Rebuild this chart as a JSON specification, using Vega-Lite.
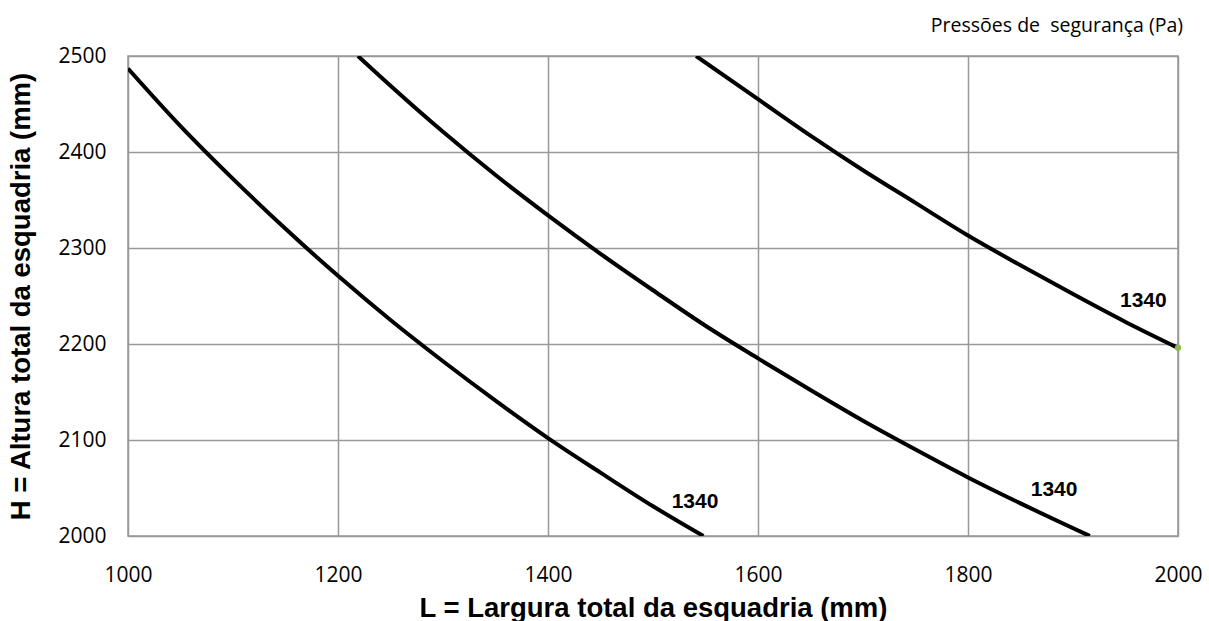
{
  "$schema": "https://vega.github.io/schema/vega-lite/v6.json",
  "autosize": {"type": "none"},
  "width": 1050,
  "height": 480,
  "padding": {"left": 128, "top": 56, "right": 31, "bottom": 85},
  "background": "white",
  "config": {
    "view": {"stroke": "#999999", "strokeWidth": 1.5},
    "axis": {
      "grid": true,
      "gridColor": "#999999",
      "gridWidth": 1.5,
      "gridOpacity": 1,
      "domain": false,
      "ticks": false,
      "labelFlush": false,
      "labelFont": "Open Sans",
      "labelFontSize": 21,
      "labelColor": "#000000",
      "titleFont": "Liberation Sans",
      "titleFontSize": 27.5,
      "titleFontWeight": "bold",
      "titleColor": "#000000"
    }
  },
  "title": {
    "text": "Pressões de\u00a0 segurança (Pa)",
    "anchor": "end",
    "orient": "top",
    "font": "Open Sans",
    "fontSize": 19.5,
    "fontWeight": "normal",
    "color": "#000000",
    "offset": 9,
    "dx": -19
  },
  "datasets": {
    "curves": [
      {"curve": "a", "L": 1000, "H": 2487},
      {"curve": "a", "L": 1050, "H": 2427},
      {"curve": "a", "L": 1100, "H": 2372},
      {"curve": "a", "L": 1150, "H": 2320},
      {"curve": "a", "L": 1200, "H": 2271},
      {"curve": "a", "L": 1250, "H": 2225},
      {"curve": "a", "L": 1300, "H": 2182},
      {"curve": "a", "L": 1350, "H": 2141},
      {"curve": "a", "L": 1400, "H": 2102},
      {"curve": "a", "L": 1450, "H": 2066},
      {"curve": "a", "L": 1500, "H": 2031},
      {"curve": "a", "L": 1548, "H": 2000},
      {"curve": "b", "L": 1219, "H": 2500},
      {"curve": "b", "L": 1250, "H": 2469},
      {"curve": "b", "L": 1300, "H": 2421},
      {"curve": "b", "L": 1350, "H": 2376},
      {"curve": "b", "L": 1400, "H": 2334},
      {"curve": "b", "L": 1450, "H": 2294},
      {"curve": "b", "L": 1500, "H": 2256},
      {"curve": "b", "L": 1550, "H": 2219},
      {"curve": "b", "L": 1600, "H": 2185},
      {"curve": "b", "L": 1650, "H": 2152},
      {"curve": "b", "L": 1700, "H": 2120},
      {"curve": "b", "L": 1750, "H": 2090},
      {"curve": "b", "L": 1800, "H": 2061},
      {"curve": "b", "L": 1850, "H": 2034},
      {"curve": "b", "L": 1916, "H": 2000},
      {"curve": "c", "L": 1541, "H": 2500},
      {"curve": "c", "L": 1600, "H": 2455},
      {"curve": "c", "L": 1650, "H": 2417},
      {"curve": "c", "L": 1700, "H": 2381},
      {"curve": "c", "L": 1750, "H": 2347},
      {"curve": "c", "L": 1800, "H": 2313},
      {"curve": "c", "L": 1850, "H": 2282},
      {"curve": "c", "L": 1900, "H": 2252},
      {"curve": "c", "L": 1950, "H": 2223},
      {"curve": "c", "L": 2000, "H": 2196}
    ],
    "labels": [
      {"L": 1540, "H": 2035, "label": "1340"},
      {"L": 1882, "H": 2048, "label": "1340"},
      {"L": 1967, "H": 2245, "label": "1340"}
    ],
    "dot": [
      {"L": 2000, "H": 2196}
    ]
  },
  "layer": [
    {
      "data": {"name": "curves"},
      "mark": {"type": "line", "color": "#000000", "strokeWidth": 4, "interpolate": "monotone", "clip": true},
      "encoding": {
        "x": {
          "field": "L", "type": "quantitative",
          "scale": {"domain": [1000, 2000], "nice": false, "zero": false},
          "axis": {"values": [1000, 1200, 1400, 1600, 1800, 2000], "labelPadding": 28, "title": "L = Largura total da esquadria (mm)", "titlePadding": 9, "format": "d"}
        },
        "y": {
          "field": "H", "type": "quantitative",
          "scale": {"domain": [2000, 2500], "nice": false, "zero": false},
          "axis": {"values": [2000, 2100, 2200, 2300, 2400, 2500], "labelPadding": 22, "title": "H = Altura total da esquadria (mm)", "titlePadding": 22, "format": "d"}
        },
        "detail": {"field": "curve", "type": "nominal"}
      }
    },
    {
      "data": {"name": "labels"},
      "mark": {"type": "text", "font": "Liberation Sans", "fontWeight": "bold", "fontSize": 21, "color": "#000000"},
      "encoding": {
        "x": {"field": "L", "type": "quantitative"},
        "y": {"field": "H", "type": "quantitative"},
        "text": {"field": "label", "type": "nominal"}
      }
    },
    {
      "data": {"name": "dot"},
      "mark": {"type": "point", "filled": true, "color": "#8DB84A", "size": 40, "opacity": 1},
      "encoding": {
        "x": {"field": "L", "type": "quantitative"},
        "y": {"field": "H", "type": "quantitative"}
      }
    }
  ]
}
